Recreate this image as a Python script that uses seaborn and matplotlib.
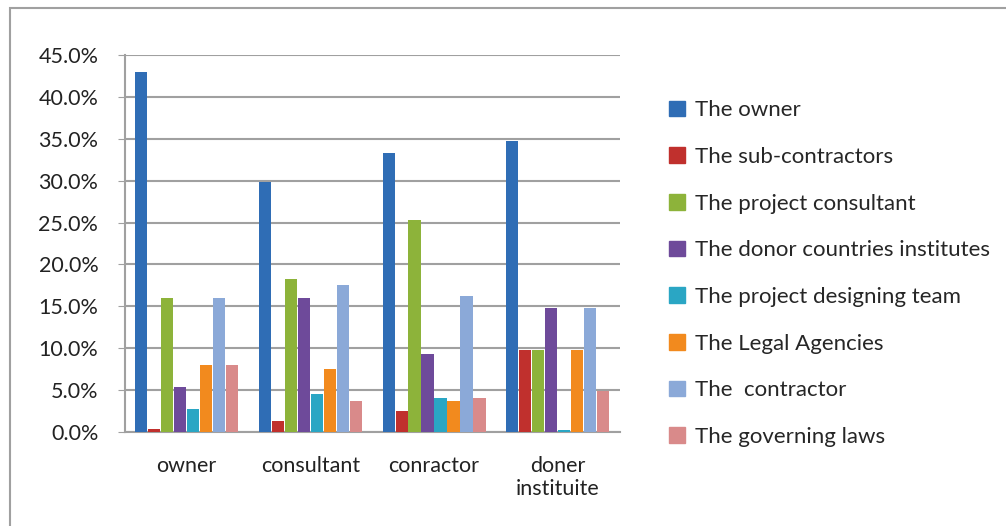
import matplotlib
matplotlib.use('Agg')
import matplotlib.pyplot as plt
import matplotlib.patches as mpatches
from matplotlib.ticker import PercentFormatter
import seaborn as sns
import pandas as pd

groups = ['owner', 'consultant', 'conractor', 'doner\ninstituite']
series = ['The owner', 'The sub-contractors', 'The project consultant',
          'The donor countries institutes', 'The project designing team',
          'The Legal Agencies', 'The  contractor', 'The governing laws']
colors = ['#2f6db5', '#c0302d', '#8db33a', '#6e4a9a',
          '#2aa6c4', '#f28a1e', '#8ba9d8', '#d98a8a']

owner_vals = [43.0, 0.3, 16.0, 5.3, 2.7, 8.0, 16.0, 8.0]
consultant_vals = [29.8, 1.3, 18.3, 16.0, 4.5, 7.5, 17.5, 3.7]
conractor_vals = [33.3, 2.5, 25.3, 9.3, 4.0, 3.7, 16.2, 4.0]
doner_vals = [34.7, 9.8, 9.8, 14.8, 0.2, 9.8, 14.8, 4.9]

rows = []
for g, vals in zip(groups, [owner_vals, consultant_vals, conractor_vals, doner_vals]):
    for s, v in zip(series, vals):
        rows.append({'group': g, 'series': s, 'value': v / 100})
df = pd.DataFrame(rows)

sns.set_style('white')
plt.rcParams['font.family'] = ['Lato', 'DejaVu Sans']

fig = plt.figure(figsize=(10.06, 5.26), dpi=100)
ax = fig.add_axes([0.124, 0.179, 0.492, 0.716])

sns.barplot(data=df, x='group', y='value', hue='series', palette=colors,
            hue_order=series, order=groups, width=0.84, gap=0.06,
            saturation=1, edgecolor='none', ax=ax, zorder=3)

ax.set_ylim(0, 0.45)
ax.set_yticks([i * 0.05 for i in range(10)])
ax.yaxis.set_major_formatter(PercentFormatter(1.0, decimals=1))
ax.grid(axis='y', color='#a0a0a0', linewidth=1.5, zorder=0)
ax.set_xlabel('')
ax.set_ylabel('')
for side in ['top', 'right']:
    ax.spines[side].set_visible(False)
for side in ['left', 'bottom']:
    ax.spines[side].set_color('#a0a0a0')
    ax.spines[side].set_linewidth(1.5)
ax.tick_params(axis='y', labelsize=15.5, colors='#222222', left=True, length=5,
               color='#a0a0a0', pad=14)
ax.tick_params(axis='x', labelsize=15.5, colors='#222222', pad=14)
for lbl in ax.get_yticklabels():
    lbl.set_color('#222222')

handles = [mpatches.Patch(color=c, label=s) for c, s in zip(colors, series)]
ax.legend(handles=handles, loc='center left', bbox_to_anchor=(1.06, 0.42),
          frameon=False, fontsize=16, handlelength=0.7, handleheight=0.7,
          labelspacing=1.2, handletextpad=0.45)

fig.patches.append(mpatches.Rectangle((0.01, -0.02), 1.0, 1.005, transform=fig.transFigure,
                                      fill=False, edgecolor='#a0a0a0', linewidth=1.5))

fig.savefig('out.png', dpi=100)
